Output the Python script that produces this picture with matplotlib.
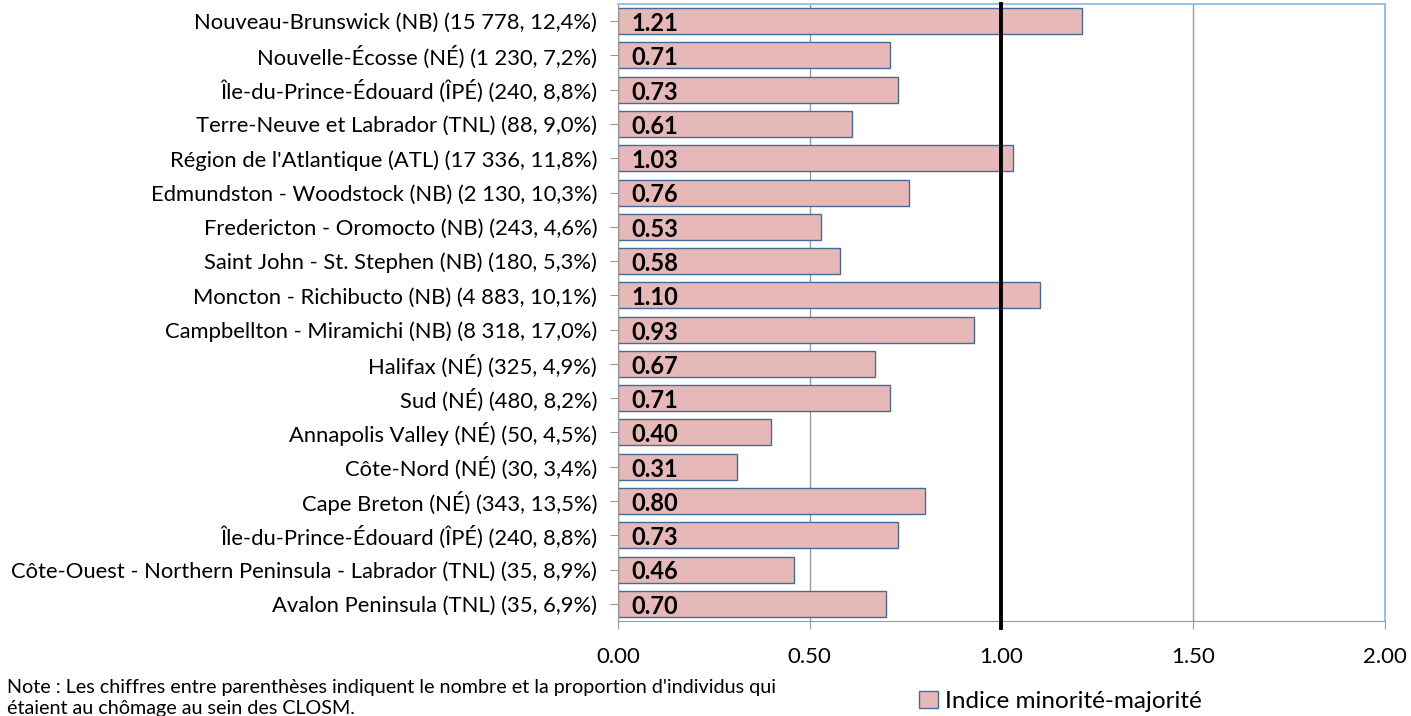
import matplotlib.pyplot as plt
from matplotlib.patches import Patch

plt.rcParams['font.family'] = ['Lato', 'DejaVu Sans']

regions = [
    "Nouveau-Brunswick (NB) (15 778, 12,4%)",
    "Nouvelle-Écosse (NÉ) (1 230, 7,2%)",
    "Île-du-Prince-Édouard (ÎPÉ) (240, 8,8%)",
    "Terre-Neuve et Labrador (TNL) (88, 9,0%)",
    "Région de l'Atlantique (ATL) (17 336, 11,8%)",
    "Edmundston - Woodstock (NB) (2 130, 10,3%)",
    "Fredericton - Oromocto (NB) (243, 4,6%)",
    "Saint John - St. Stephen (NB) (180, 5,3%)",
    "Moncton - Richibucto (NB) (4 883, 10,1%)",
    "Campbellton - Miramichi (NB) (8 318, 17,0%)",
    "Halifax (NÉ) (325, 4,9%)",
    "Sud (NÉ) (480, 8,2%)",
    "Annapolis Valley (NÉ) (50, 4,5%)",
    "Côte-Nord (NÉ) (30, 3,4%)",
    "Cape Breton (NÉ) (343, 13,5%)",
    "Île-du-Prince-Édouard (ÎPÉ) (240, 8,8%)",
    "Côte-Ouest - Northern Peninsula - Labrador (TNL) (35, 8,9%)",
    "Avalon Peninsula (TNL) (35, 6,9%)",
]
index_values = [1.21, 0.71, 0.73, 0.61, 1.03, 0.76, 0.53, 0.58, 1.10,
                0.93, 0.67, 0.71, 0.40, 0.31, 0.80, 0.73, 0.46, 0.70]
x_ticks = [0.0, 0.5, 1.0, 1.5, 2.0]

fig = plt.figure(figsize=(14.11, 7.16), dpi=100)
ax = fig.add_axes([0.438, 0.1327, 0.5433, 0.8617])

pos = list(range(len(regions)))
ax.barh(pos, index_values, height=0.76, color='#E6B9B8',
        edgecolor='#4A6A96', linewidth=1.0, zorder=2)
for y, v in zip(pos, index_values):
    ax.text(0.035, y + 0.07, f"{v:.2f}", va='center', ha='left',
            fontsize=17, fontweight='bold', color='black', zorder=3)

# reference line at parity
ax.axvline(1.0, color='black', linewidth=2.8, ymin=-0.012, ymax=1,
           clip_on=False, zorder=4)

ax.set_xlim(0, 2)
ax.set_ylim(len(regions) - 0.5, -0.5)
ax.set_xticks(x_ticks)
ax.set_xticklabels([f"{t:.2f}" for t in x_ticks], fontsize=16)
ax.set_yticks(pos)
ax.set_yticklabels(regions, fontsize=15.8)
ax.tick_params(axis='y', length=6, color='#999999', pad=9)
ax.tick_params(axis='x', length=6, color='#999999', pad=13)
ax.xaxis.grid(True, color='#999999', linewidth=1.0, zorder=0)

for side in ('left', 'bottom'):
    ax.spines[side].set_color('#999999')
for side in ('top', 'right'):
    ax.spines[side].set_color('#8EB4E3')
    ax.spines[side].set_linewidth(1.2)

fig.text(0.005, 0.052,
         "Note : Les chiffres entre parenthèses indiquent le nombre et la proportion d'individus qui\n"
         "étaient au chômage au sein des CLOSM.",
         fontsize=14.2, va='top', ha='left', linespacing=1.3)

handle = Patch(facecolor='#E6B9B8', edgecolor='#4A6A96', linewidth=1.0)
fig.legend([handle], ["Indice minorité-majorité"], loc='lower left',
           bbox_to_anchor=(0.636, -0.025), frameon=False, fontsize=17.5,
           handlelength=0.75, handleheight=0.75, handletextpad=0.3)

fig.savefig("out.png", dpi=100)
